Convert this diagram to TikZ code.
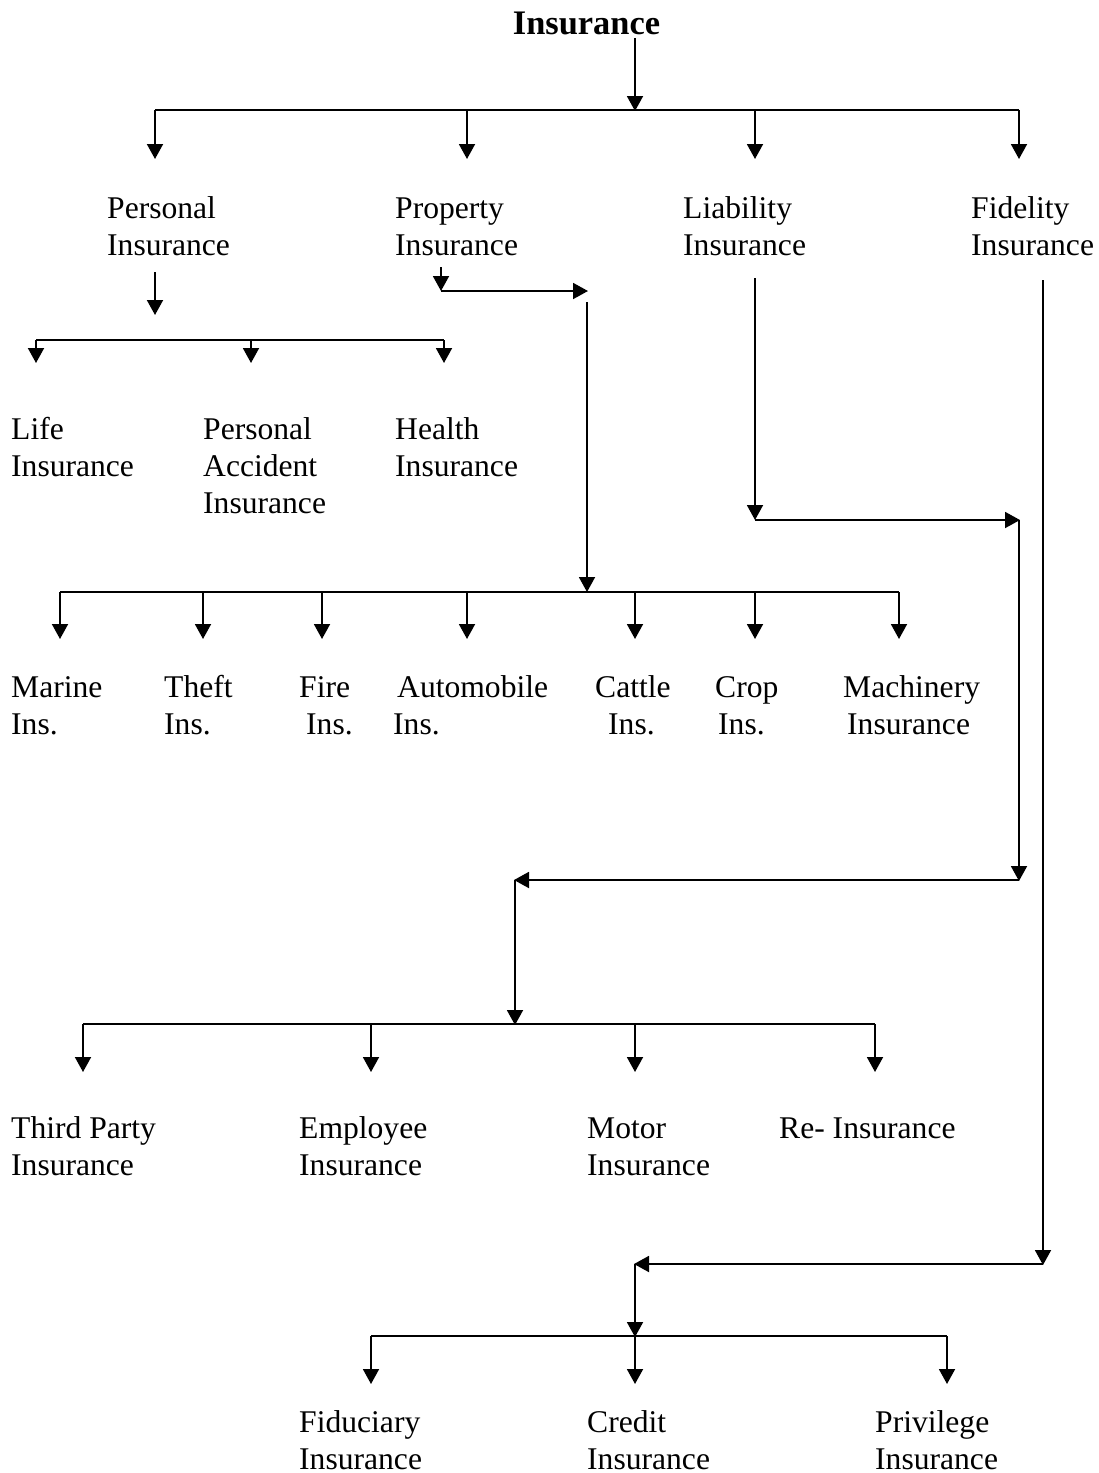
\documentclass[tikz,border=0pt]{standalone}
\usepackage{fontspec}
\setmainfont{Liberation Serif}
\usetikzlibrary{arrows.meta}
\begin{document}
\begin{tikzpicture}[x=1pt,y=-1pt,
  conn/.style={line width=1.9pt,-{Triangle[width=16pt,length=15pt]}},
  plain/.style={line width=1.9pt},
  lbl/.style={anchor=base west,inner sep=0pt,font=\fontsize{31.6}{37}\selectfont},
  ttl/.style={anchor=base,inner sep=0pt,font=\fontsize{34.4}{40}\selectfont\bfseries}]
\useasboundingbox (0,0) rectangle (1099,1473);
\newcommand{\lb}[1]{\begin{tabular}[t]{@{}l@{}}#1\end{tabular}}
% title
\node[ttl] (root) at (586.5,34) {Insurance};
% level 1
\coordinate (r0) at (635,38);
\coordinate (r1) at (635,111);
\draw[conn] (r0) -- (r1);
\coordinate (bl) at (155,110);
\coordinate (br) at (1019,110);
\draw[plain] (bl) -- (br);
\foreach \x/\n in {155/a,467/b,755/c,1019/d}{
  \coordinate (t\n) at (\x,110);
  \coordinate (h\n) at (\x,159);
  \draw[conn] (t\n) -- (h\n);
}
\node[lbl] (pers) at (107,218) {\lb{Personal\\Insurance}};
\node[lbl] (prop) at (395,218) {\lb{Property\\Insurance}};
\node[lbl] (liab) at (683,218) {\lb{Liability\\Insurance}};
\node[lbl] (fid) at (971,218) {\lb{Fidelity\\Insurance}};
% personal branch
\coordinate (p0) at (155,272);
\coordinate (p1) at (155,315);
\draw[conn] (p0) -- (p1);
\coordinate (pl) at (36,340);
\coordinate (pr) at (444,340);
\draw[plain] (pl) -- (pr);
\foreach \x/\n in {36/a,251/b,444/c}{
  \coordinate (pt\n) at (\x,340);
  \coordinate (ph\n) at (\x,363);
  \draw[conn] (pt\n) -- (ph\n);
}
\node[lbl] (life) at (11,439) {\lb{Life\\Insurance}};
\node[lbl] (pacc) at (203,439) {\lb{Personal\\Accident\\Insurance}};
\node[lbl] (hlth) at (395,439) {\lb{Health\\Insurance}};
% property branch
\coordinate (q0) at (441,267);
\coordinate (q1) at (441,291);
\draw[conn] (q0) -- (q1);
\coordinate (q2) at (588,291);
\draw[conn] (q1) -- (q2);
\coordinate (q3) at (587,302);
\coordinate (q4) at (587,592);
\draw[conn] (q3) -- (q4);
\coordinate (ql) at (60,592);
\coordinate (qr) at (899,592);
\draw[plain] (ql) -- (qr);
\foreach \x/\n in {60/a,203/b,322/c,467/d,635/e,755/f,899/g}{
  \coordinate (qt\n) at (\x,592);
  \coordinate (qh\n) at (\x,639);
  \draw[conn] (qt\n) -- (qh\n);
}
\node[lbl] (mar) at (11,697) {\lb{Marine\\Ins.}};
\node[lbl] (thf) at (164,697) {\lb{Theft\\Ins.}};
\node[lbl] (fir) at (299,697) {\lb{Fire\\\hspace{7pt}Ins.}};
\node[lbl] (aut) at (393,697) {\lb{\hspace{4pt}Automobile\\Ins.}};
\node[lbl] (cat) at (595,697) {\lb{Cattle\\\hspace{13pt}Ins.}};
\node[lbl] (crp) at (715,697) {\lb{Crop\\\hspace{3pt}Ins.}};
\node[lbl] (mac) at (843,697) {\lb{Machinery\\\hspace{4pt}Insurance}};
% liability branch
\coordinate (l0) at (755,278);
\coordinate (l1) at (755,520);
\draw[conn] (l0) -- (l1);
\coordinate (l2) at (1020,520);
\draw[conn] (l1) -- (l2);
\coordinate (l3) at (1019,520);
\coordinate (l4) at (1019,881);
\draw[conn] (l3) -- (l4);
\coordinate (l5) at (1019,880);
\coordinate (l6) at (514,880);
\draw[conn] (l5) -- (l6);
\coordinate (l7) at (515,880);
\coordinate (l8) at (515,1025);
\draw[conn] (l7) -- (l8);
\coordinate (ll) at (83,1024);
\coordinate (lr) at (875,1024);
\draw[plain] (ll) -- (lr);
\foreach \x/\n in {83/a,371/b,635/c,875/d}{
  \coordinate (lt\n) at (\x,1024);
  \coordinate (lh\n) at (\x,1072);
  \draw[conn] (lt\n) -- (lh\n);
}
\node[lbl] (thp) at (11,1138) {\lb{Third Party\\Insurance}};
\node[lbl] (emp) at (299,1138) {\lb{Employee\\Insurance}};
\node[lbl] (mot) at (587,1138) {\lb{Motor\\Insurance}};
\node[lbl] (rei) at (779,1138) {Re- Insurance};
% fidelity branch
\coordinate (f0) at (1043,280);
\coordinate (f1) at (1043,1265);
\draw[conn] (f0) -- (f1);
\coordinate (f2) at (1043,1264);
\coordinate (f3) at (634,1264);
\draw[conn] (f2) -- (f3);
\coordinate (f4) at (635,1264);
\coordinate (f5) at (635,1337);
\draw[conn] (f4) -- (f5);
\coordinate (fl) at (371,1336);
\coordinate (fr) at (947,1336);
\draw[plain] (fl) -- (fr);
\foreach \x/\n in {371/a,635/b,947/c}{
  \coordinate (ft\n) at (\x,1336);
  \coordinate (fh\n) at (\x,1384);
  \draw[conn] (ft\n) -- (fh\n);
}
\node[lbl] (fidu) at (299,1432) {\lb{Fiduciary\\Insurance}};
\node[lbl] (cred) at (587,1432) {\lb{Credit\\Insurance}};
\node[lbl] (priv) at (875,1432) {\lb{Privilege\\Insurance}};
\end{tikzpicture}
\end{document}
